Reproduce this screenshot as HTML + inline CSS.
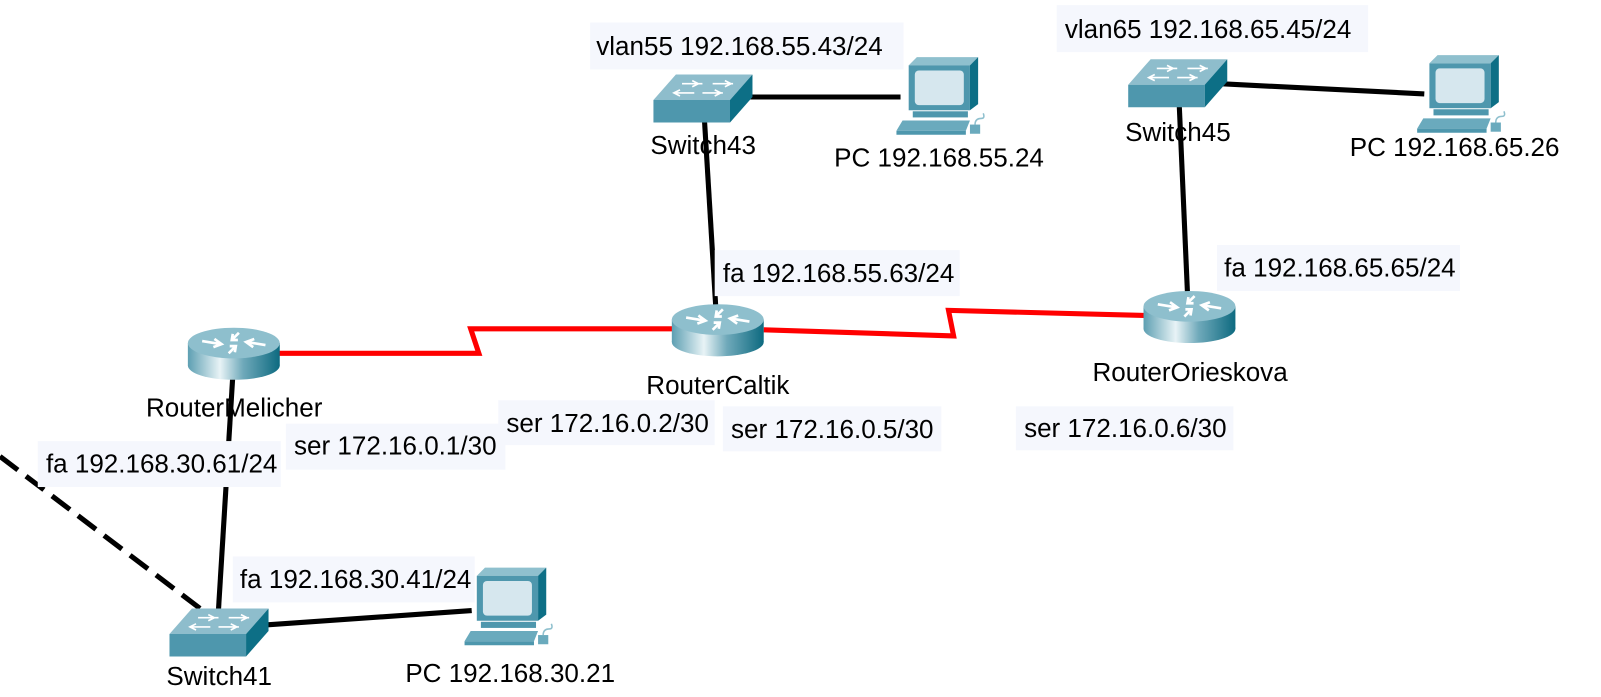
<!DOCTYPE html>
<html><head><meta charset="utf-8"><style>
html,body{margin:0;padding:0;background:#fff;}
svg{display:block;font-family:"Liberation Sans",Arial,sans-serif;}
text{font-size:25.5px;fill:#000;}
.lb{fill:#f5f7fd;}
</style></head><body>
<svg width="1601" height="697" viewBox="0 0 1601 697" xmlns="http://www.w3.org/2000/svg">
<defs>
<linearGradient id="rg" x1="0" x2="1" y1="0" y2="0">
<stop offset="0" stop-color="#5d9fb2"/><stop offset="0.35" stop-color="#e8f3f6"/><stop offset="0.6" stop-color="#6fa9ba"/><stop offset="1" stop-color="#0d6a80"/>
</linearGradient>
<g id="sw">
<polygon points="0,28 22,3 97,3 75,28" fill="#8ebdcc"/>
<polygon points="0,28 75,28 75,50 0,50" fill="#4e97ad"/>
<polygon points="75,28 97,3 97,25 75,50" fill="#0d6f86"/>
<path d="M28,12 h20 M38,9 l6,3 -6,3 M58,12 h20 M70,9 l6,3-6,3 M20,21 h20 M26,18 l-6,3 6,3 M48,21 h20 M60,18 l6,3 -6,3" stroke="#fff" stroke-width="1.6" fill="none"/>
</g>
<g id="rt">
<rect x="0" y="16" width="90" height="22" fill="url(#rg)"/>
<ellipse cx="45" cy="38" rx="45" ry="14" fill="url(#rg)"/>
<ellipse cx="45" cy="16" rx="45" ry="15" fill="#8ebfcd"/>
<path d="M14,14 l18,3 M26,12 l7,5 -8,3 M76,18 l-18,-3 M64,20 l-7,-5 8,-3 M50,6 l-7,7 M44,7 l-1,6 6,0 M40,26 l7,-7 M46,25 l1,-6 -6,0" stroke="#fff" stroke-width="2.6" fill="none"/>
</g>
<g id="pc">
<polygon points="12,12 20,4 80,4 72,12" fill="#8fc0ce"/>
<polygon points="72,12 80,4 80,50 72,56" fill="#0d6f86"/>
<rect x="12" y="12" width="60" height="44" fill="#4e97ad"/>
<rect x="18" y="17" width="48" height="34" rx="4" fill="#d6e7ee"/>
<rect x="16" y="57" width="54" height="6" fill="#4e97ad"/>
<polygon points="6,66 72,66 68,76 0,76" fill="#6aaabd"/>
<polygon points="0,76 68,76 68,80 0,80" fill="#4e97ad"/>
<rect x="72" y="70" width="10" height="9" fill="#6aaabd"/>
<path d="M77,70 q0,-6 6,-6 q4,0 2,-5" stroke="#8fc0ce" stroke-width="1.5" fill="none"/>
</g>
</defs>
<g transform="scale(1.021)">
<g stroke="#000" stroke-width="5" fill="none">
<line x1="735" y1="95" x2="882" y2="95"/>
<line x1="690" y1="118" x2="701" y2="300"/>
<line x1="1195" y1="82" x2="1395" y2="92"/>
<line x1="1155" y1="103" x2="1163" y2="286"/>
<line x1="228" y1="368" x2="214" y2="597"/>
<line x1="262" y1="612" x2="462" y2="598"/>
<line x1="0" y1="447" x2="196" y2="596" stroke-dasharray="22,10"/>
</g>
<g stroke="#f00" stroke-width="5" fill="none">
<polyline points="272,346 469,346 461,322 660,322"/>
<polyline points="748,323 934,329 929,304 1122,309"/>
</g>

<rect class="lb" x="578" y="22" width="307" height="46"/>
<rect class="lb" x="1035" y="5" width="305" height="46"/>
<rect class="lb" x="700" y="245" width="240" height="45"/>
<rect class="lb" x="1192" y="240" width="238" height="45"/>
<rect class="lb" x="280" y="415" width="215" height="45"/>
<rect class="lb" x="488" y="392" width="212" height="44"/>
<rect class="lb" x="708" y="398" width="214" height="44"/>
<rect class="lb" x="995" y="398" width="213" height="43"/>
<rect class="lb" x="37" y="432" width="238" height="45"/>
<rect class="lb" x="228" y="545" width="237" height="45"/>

<use href="#sw" x="640" y="70"/>
<use href="#sw" x="1105" y="55"/>
<use href="#sw" x="166" y="593"/>
<use href="#rt" x="184" y="320"/>
<use href="#rt" x="658" y="297"/>
<use href="#rt" x="1120" y="284"/>
<use href="#pc" x="878" y="52"/>
<use href="#pc" x="1388" y="50"/>
<use href="#pc" x="455" y="552"/>

<text x="584" y="54">vlan55 192.168.55.43/24</text>
<text x="1043" y="37">vlan65 192.168.65.45/24</text>
<text x="637" y="151">Switch43</text>
<text x="817" y="163">PC 192.168.55.24</text>
<text x="1102" y="138">Switch45</text>
<text x="1322" y="153">PC 192.168.65.26</text>
<text x="708" y="276">fa 192.168.55.63/24</text>
<text x="1199" y="271">fa 192.168.65.65/24</text>
<text x="633" y="386">RouterCaltik</text>
<text x="1070" y="373">RouterOrieskova</text>
<text x="143" y="408">RouterMelicher</text>
<text x="288" y="445">ser 172.16.0.1/30</text>
<text x="496" y="423">ser 172.16.0.2/30</text>
<text x="716" y="429">ser 172.16.0.5/30</text>
<text x="1003" y="428">ser 172.16.0.6/30</text>
<text x="45" y="463">fa 192.168.30.61/24</text>
<text x="235" y="576">fa 192.168.30.41/24</text>
<text x="163" y="671">Switch41</text>
<text x="397" y="668">PC 192.168.30.21</text>
</g>
</svg>
</body></html>
